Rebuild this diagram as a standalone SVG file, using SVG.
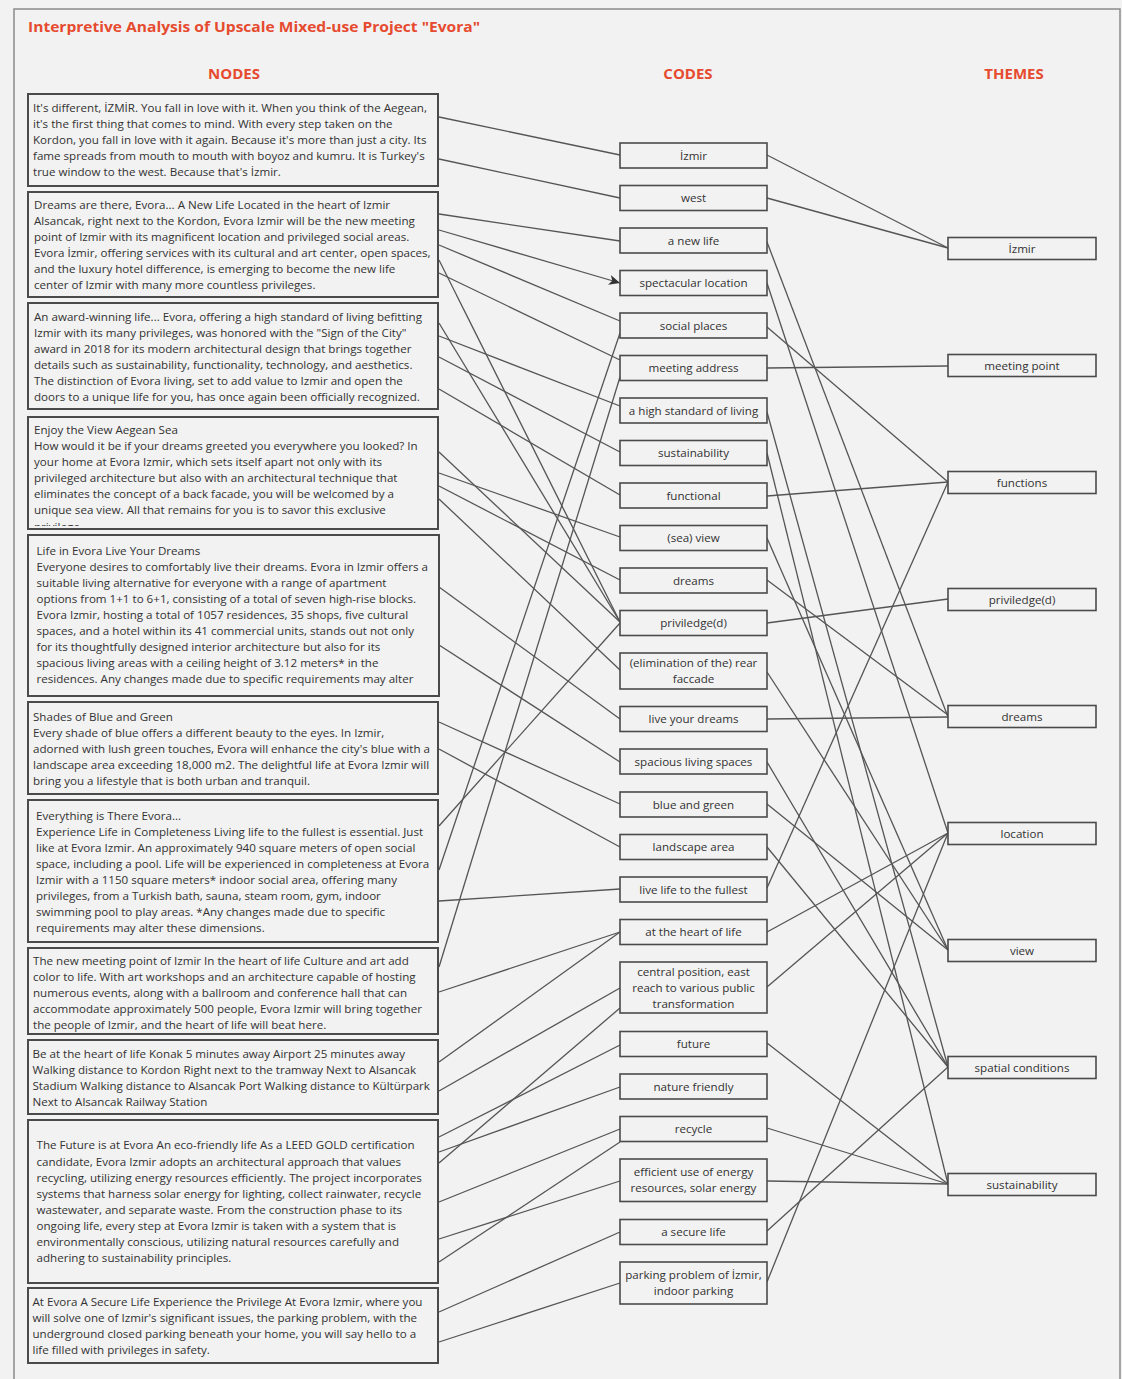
<svg xmlns="http://www.w3.org/2000/svg" width="1122" height="1379" viewBox="0 0 1122 1379">
<defs>
<style>
.t{font-family:"Open Sans","DejaVu Sans",sans-serif;font-size:11.6px;fill:#333}
.m{text-anchor:middle}
.hd{font-family:"Open Sans","DejaVu Sans",sans-serif;font-weight:bold;fill:#e64a2f}
.nb{fill:#f2f2f2;stroke:#4a4a4a;stroke-width:2}
.cb{fill:#f2f2f2;stroke:#4a4a4a;stroke-width:1.6}
.ln line{stroke:#555;stroke-width:1.3}
</style>
<marker id="arr" markerUnits="userSpaceOnUse" markerWidth="12" markerHeight="10" refX="11" refY="5" orient="auto">
<path d="M0,0 L11,5 L0,10 L3,5 Z" fill="#333"/>
</marker>
<clipPath id="clip4"><rect x="28" y="417" width="410" height="109"/></clipPath>
</defs>
<rect x="0" y="0" width="1122" height="1379" fill="#f2f2f2"/>
<rect x="14" y="9" width="1106" height="1390" fill="none" stroke="#8a8a8a" stroke-width="1.5"/>
<g id="title">
<text class="hd" x="28" y="32" font-size="14.5" textLength="452" lengthAdjust="spacingAndGlyphs">Interpretive Analysis of Upscale Mixed-use Project "Evora"</text>
</g>
<g id="headers">
<text class="hd m" x="234" y="79" font-size="15">NODES</text>
<text class="hd m" x="688" y="79" font-size="15">CODES</text>
<text class="hd m" x="1014" y="79" font-size="15">THEMES</text>
</g>
<g id="connectors" class="ln">
<line x1="439" y1="117" x2="620" y2="155"/>
<line x1="439" y1="159" x2="620" y2="198"/>
<line x1="439" y1="214" x2="620" y2="241"/>
<line x1="439" y1="230" x2="620" y2="283" marker-end="url(#arr)"/>
<line x1="439" y1="245" x2="620" y2="321"/>
<line x1="439" y1="273" x2="620" y2="360"/>
<line x1="439" y1="260" x2="620" y2="622"/>
<line x1="439" y1="323" x2="620" y2="622"/>
<line x1="439" y1="336" x2="620" y2="406"/>
<line x1="439" y1="357" x2="620" y2="452"/>
<line x1="439" y1="389" x2="620" y2="495"/>
<line x1="439" y1="452" x2="620" y2="622"/>
<line x1="439" y1="473" x2="620" y2="537"/>
<line x1="439" y1="486" x2="620" y2="580"/>
<line x1="439" y1="499" x2="620" y2="670"/>
<line x1="439" y1="587" x2="620" y2="719"/>
<line x1="439" y1="645" x2="620" y2="762"/>
<line x1="439" y1="722" x2="620" y2="804"/>
<line x1="439" y1="749" x2="620" y2="847"/>
<line x1="439" y1="901" x2="620" y2="889"/>
<line x1="439" y1="992" x2="620" y2="932"/>
<line x1="620" y1="333" x2="439" y2="870"/>
<line x1="620" y1="377" x2="439" y2="967"/>
<line x1="620" y1="623" x2="439" y2="826"/>
<line x1="620" y1="932" x2="439" y2="1062"/>
<line x1="620" y1="988" x2="439" y2="1091"/>
<line x1="620" y1="1008" x2="439" y2="1163"/>
<line x1="620" y1="1045" x2="439" y2="1137"/>
<line x1="620" y1="1087" x2="439" y2="1152"/>
<line x1="620" y1="1129" x2="439" y2="1202"/>
<line x1="620" y1="1142" x2="439" y2="1262"/>
<line x1="620" y1="1181" x2="439" y2="1239"/>
<line x1="620" y1="1232" x2="439" y2="1312"/>
<line x1="620" y1="1283" x2="439" y2="1342"/>
<line x1="767" y1="155" x2="948" y2="248"/>
<line x1="767" y1="198" x2="948" y2="248"/>
<line x1="767" y1="242" x2="948" y2="717"/>
<line x1="767" y1="283" x2="948" y2="833"/>
<line x1="767" y1="327" x2="948" y2="482"/>
<line x1="767" y1="368" x2="948" y2="366"/>
<line x1="767" y1="412" x2="948" y2="1067"/>
<line x1="767" y1="453" x2="948" y2="1184"/>
<line x1="767" y1="496" x2="948" y2="482"/>
<line x1="767" y1="538" x2="948" y2="950"/>
<line x1="767" y1="580" x2="948" y2="715"/>
<line x1="767" y1="623" x2="948" y2="599"/>
<line x1="767" y1="672" x2="948" y2="950"/>
<line x1="767" y1="719" x2="948" y2="717"/>
<line x1="767" y1="762" x2="948" y2="1067"/>
<line x1="767" y1="804" x2="948" y2="950"/>
<line x1="767" y1="847" x2="948" y2="1067"/>
<line x1="767" y1="888" x2="948" y2="482"/>
<line x1="767" y1="932" x2="948" y2="833"/>
<line x1="767" y1="987" x2="948" y2="833"/>
<line x1="767" y1="1043" x2="948" y2="1184"/>
<line x1="767" y1="1128" x2="948" y2="1184"/>
<line x1="767" y1="1181" x2="948" y2="1184"/>
<line x1="767" y1="1231" x2="948" y2="1067"/>
<line x1="767" y1="1282" x2="948" y2="833"/>
</g>
<g id="node-1"><rect class="nb" x="28" y="94" width="410" height="92"/>
<text class="t" x="33" y="112">It's different, İZMİR. You fall in love with it. When you think of the Aegean,</text>
<text class="t" x="33" y="128">it's the first thing that comes to mind. With every step taken on the</text>
<text class="t" x="33" y="144">Kordon, you fall in love with it again. Because it's more than just a city. Its</text>
<text class="t" x="33" y="160">fame spreads from mouth to mouth with boyoz and kumru. It is Turkey's</text>
<text class="t" x="33" y="176">true window to the west. Because that's İzmir.</text></g>
<g id="node-2"><rect class="nb" x="28" y="192" width="410" height="105"/>
<text class="t" x="34" y="209">Dreams are there, Evora... A New Life Located in the heart of Izmir</text>
<text class="t" x="34" y="225">Alsancak, right next to the Kordon, Evora Izmir will be the new meeting</text>
<text class="t" x="34" y="241">point of Izmir with its magnificent location and privileged social areas.</text>
<text class="t" x="34" y="257">Evora İzmir, offering services with its cultural and art center, open spaces,</text>
<text class="t" x="34" y="273">and the luxury hotel difference, is emerging to become the new life</text>
<text class="t" x="34" y="289">center of Izmir with many more countless privileges.</text></g>
<g id="node-3"><rect class="nb" x="28" y="303" width="410" height="106"/>
<text class="t" x="34" y="321">An award-winning life... Evora, offering a high standard of living befitting</text>
<text class="t" x="34" y="337">Izmir with its many privileges, was honored with the "Sign of the City"</text>
<text class="t" x="34" y="353">award in 2018 for its modern architectural design that brings together</text>
<text class="t" x="34" y="369">details such as sustainability, functionality, technology, and aesthetics.</text>
<text class="t" x="34" y="385">The distinction of Evora living, set to add value to Izmir and open the</text>
<text class="t" x="34" y="401">doors to a unique life for you, has once again been officially recognized.</text></g>
<g id="node-4"><rect class="nb" x="28" y="417" width="410" height="112"/>
<text class="t" x="34" y="434">Enjoy the View Aegean Sea</text>
<text class="t" x="34" y="450">How would it be if your dreams greeted you everywhere you looked? In</text>
<text class="t" x="34" y="466">your home at Evora Izmir, which sets itself apart not only with its</text>
<text class="t" x="34" y="482">privileged architecture but also with an architectural technique that</text>
<text class="t" x="34" y="498">eliminates the concept of a back facade, you will be welcomed by a</text>
<text class="t" x="34" y="514">unique sea view. All that remains for you is to savor this exclusive</text>
<text class="t" x="34" y="531" clip-path="url(#clip4)">privilege.</text></g>
<g id="node-5"><rect class="nb" x="28" y="535" width="411" height="161"/>
<text class="t" x="36.5" y="555">Life in Evora Live Your Dreams</text>
<text class="t" x="36.5" y="571">Everyone desires to comfortably live their dreams. Evora in Izmir offers a</text>
<text class="t" x="36.5" y="587">suitable living alternative for everyone with a range of apartment</text>
<text class="t" x="36.5" y="603">options from 1+1 to 6+1, consisting of a total of seven high-rise blocks.</text>
<text class="t" x="36.5" y="619">Evora Izmir, hosting a total of 1057 residences, 35 shops, five cultural</text>
<text class="t" x="36.5" y="635">spaces, and a hotel within its 41 commercial units, stands out not only</text>
<text class="t" x="36.5" y="651">for its thoughtfully designed interior architecture but also for its</text>
<text class="t" x="36.5" y="667">spacious living areas with a ceiling height of 3.12 meters* in the</text>
<text class="t" x="36.5" y="683">residences. Any changes made due to specific requirements may alter</text></g>
<g id="node-6"><rect class="nb" x="28" y="702" width="410" height="92"/>
<text class="t" x="33" y="721">Shades of Blue and Green</text>
<text class="t" x="33" y="737">Every shade of blue offers a different beauty to the eyes. In Izmir,</text>
<text class="t" x="33" y="753">adorned with lush green touches, Evora will enhance the city's blue with a</text>
<text class="t" x="33" y="769">landscape area exceeding 18,000 m2. The delightful life at Evora Izmir will</text>
<text class="t" x="33" y="785">bring you a lifestyle that is both urban and tranquil.</text></g>
<g id="node-7"><rect class="nb" x="28" y="800" width="410" height="142"/>
<text class="t" x="36" y="820">Everything is There Evora...</text>
<text class="t" x="36" y="836">Experience Life in Completeness Living life to the fullest is essential. Just</text>
<text class="t" x="36" y="852">like at Evora Izmir. An approximately 940 square meters of open social</text>
<text class="t" x="36" y="868">space, including a pool. Life will be experienced in completeness at Evora</text>
<text class="t" x="36" y="884">Izmir with a 1150 square meters* indoor social area, offering many</text>
<text class="t" x="36" y="900">privileges, from a Turkish bath, sauna, steam room, gym, indoor</text>
<text class="t" x="36" y="916">swimming pool to play areas. *Any changes made due to specific</text>
<text class="t" x="36" y="932">requirements may alter these dimensions.</text></g>
<g id="node-8"><rect class="nb" x="28" y="948" width="410" height="86"/>
<text class="t" x="33" y="965">The new meeting point of Izmir In the heart of life Culture and art add</text>
<text class="t" x="33" y="981">color to life. With art workshops and an architecture capable of hosting</text>
<text class="t" x="33" y="997">numerous events, along with a ballroom and conference hall that can</text>
<text class="t" x="33" y="1013">accommodate approximately 500 people, Evora Izmir will bring together</text>
<text class="t" x="33" y="1029">the people of Izmir, and the heart of life will beat here.</text></g>
<g id="node-9"><rect class="nb" x="28" y="1040" width="410" height="74"/>
<text class="t" x="32.5" y="1058">Be at the heart of life Konak 5 minutes away Airport 25 minutes away</text>
<text class="t" x="32.5" y="1074">Walking distance to Kordon Right next to the tramway Next to Alsancak</text>
<text class="t" x="32.5" y="1090">Stadium Walking distance to Alsancak Port Walking distance to Kültürpark</text>
<text class="t" x="32.5" y="1106">Next to Alsancak Railway Station</text></g>
<g id="node-10"><rect class="nb" x="28" y="1120" width="410" height="163"/>
<text class="t" x="36.5" y="1149">The Future is at Evora An eco-friendly life As a LEED GOLD certification</text>
<text class="t" x="36.5" y="1166">candidate, Evora Izmir adopts an architectural approach that values</text>
<text class="t" x="36.5" y="1182">recycling, utilizing energy resources efficiently. The project incorporates</text>
<text class="t" x="36.5" y="1198">systems that harness solar energy for lighting, collect rainwater, recycle</text>
<text class="t" x="36.5" y="1214">wastewater, and separate waste. From the construction phase to its</text>
<text class="t" x="36.5" y="1230">ongoing life, every step at Evora Izmir is taken with a system that is</text>
<text class="t" x="36.5" y="1246">environmentally conscious, utilizing natural resources carefully and</text>
<text class="t" x="36.5" y="1262">adhering to sustainability principles.</text></g>
<g id="node-11"><rect class="nb" x="28" y="1288" width="410" height="75"/>
<text class="t" x="32.5" y="1306">At Evora A Secure Life Experience the Privilege At Evora Izmir, where you</text>
<text class="t" x="32.5" y="1322">will solve one of Izmir's significant issues, the parking problem, with the</text>
<text class="t" x="32.5" y="1338">underground closed parking beneath your home, you will say hello to a</text>
<text class="t" x="32.5" y="1354">life filled with privileges in safety.</text></g>
<g id="code-1"><rect class="cb" x="620" y="143" width="147" height="25"/><text class="t m" x="693.5" y="159.5">İzmir</text></g>
<g id="code-2"><rect class="cb" x="620" y="185.5" width="147" height="25"/><text class="t m" x="693.5" y="202">west</text></g>
<g id="code-3"><rect class="cb" x="620" y="228" width="147" height="25"/><text class="t m" x="693.5" y="244.5">a new life</text></g>
<g id="code-4"><rect class="cb" x="620" y="270.5" width="147" height="25"/><text class="t m" x="693.5" y="287">spectacular location</text></g>
<g id="code-5"><rect class="cb" x="620" y="313" width="147" height="25"/><text class="t m" x="693.5" y="329.5">social places</text></g>
<g id="code-6"><rect class="cb" x="620" y="355.5" width="147" height="25"/><text class="t m" x="693.5" y="372">meeting address</text></g>
<g id="code-7"><rect class="cb" x="620" y="398" width="147" height="25"/><text class="t m" x="693.5" y="414.5">a high standard of living</text></g>
<g id="code-8"><rect class="cb" x="620" y="440.5" width="147" height="25"/><text class="t m" x="693.5" y="457">sustainability</text></g>
<g id="code-9"><rect class="cb" x="620" y="483" width="147" height="25"/><text class="t m" x="693.5" y="499.5">functional</text></g>
<g id="code-10"><rect class="cb" x="620" y="525.5" width="147" height="25"/><text class="t m" x="693.5" y="542">(sea) view</text></g>
<g id="code-11"><rect class="cb" x="620" y="568" width="147" height="25"/><text class="t m" x="693.5" y="584.5">dreams</text></g>
<g id="code-12"><rect class="cb" x="620" y="610.5" width="147" height="25"/><text class="t m" x="693.5" y="627">priviledge(d)</text></g>
<g id="code-13"><rect class="cb" x="620" y="653" width="147" height="36"/><text class="t m" x="693.5" y="667">(elimination of the) rear</text><text class="t m" x="693.5" y="683">faccade</text></g>
<g id="code-14"><rect class="cb" x="620" y="706.5" width="147" height="25"/><text class="t m" x="693.5" y="723">live your dreams</text></g>
<g id="code-15"><rect class="cb" x="620" y="749" width="147" height="25"/><text class="t m" x="693.5" y="765.5">spacious living spaces</text></g>
<g id="code-16"><rect class="cb" x="620" y="792" width="147" height="25"/><text class="t m" x="693.5" y="808.5">blue and green</text></g>
<g id="code-17"><rect class="cb" x="620" y="834.5" width="147" height="25"/><text class="t m" x="693.5" y="851">landscape area</text></g>
<g id="code-18"><rect class="cb" x="620" y="877" width="147" height="25"/><text class="t m" x="693.5" y="893.5">live life to the fullest</text></g>
<g id="code-19"><rect class="cb" x="620" y="919.5" width="147" height="25"/><text class="t m" x="693.5" y="936">at the heart of life</text></g>
<g id="code-20"><rect class="cb" x="620" y="962" width="147" height="51"/><text class="t m" x="693.5" y="976">central position, east</text><text class="t m" x="693.5" y="992">reach to various public</text><text class="t m" x="693.5" y="1008">transformation</text></g>
<g id="code-21"><rect class="cb" x="620" y="1031.5" width="147" height="25"/><text class="t m" x="693.5" y="1048">future</text></g>
<g id="code-22"><rect class="cb" x="620" y="1074" width="147" height="25"/><text class="t m" x="693.5" y="1090.5">nature friendly</text></g>
<g id="code-23"><rect class="cb" x="620" y="1116.5" width="147" height="25"/><text class="t m" x="693.5" y="1133">recycle</text></g>
<g id="code-24"><rect class="cb" x="620" y="1159" width="147" height="42.5"/><text class="t m" x="693.5" y="1176">efficient use of energy</text><text class="t m" x="693.5" y="1192">resources, solar energy</text></g>
<g id="code-25"><rect class="cb" x="620" y="1219.5" width="147" height="25"/><text class="t m" x="693.5" y="1236">a secure life</text></g>
<g id="code-26"><rect class="cb" x="620" y="1262" width="147" height="42"/><text class="t m" x="693.5" y="1279">parking problem of İzmir,</text><text class="t m" x="693.5" y="1295">indoor parking</text></g>
<g id="theme-1"><rect class="cb" x="948" y="237.5" width="148" height="22"/><text class="t m" x="1022" y="252.5">İzmir</text></g>
<g id="theme-2"><rect class="cb" x="948" y="354.5" width="148" height="22"/><text class="t m" x="1022" y="369.5">meeting point</text></g>
<g id="theme-3"><rect class="cb" x="948" y="471.5" width="148" height="22"/><text class="t m" x="1022" y="486.5">functions</text></g>
<g id="theme-4"><rect class="cb" x="948" y="588.5" width="148" height="22"/><text class="t m" x="1022" y="603.5">priviledge(d)</text></g>
<g id="theme-5"><rect class="cb" x="948" y="705.5" width="148" height="22"/><text class="t m" x="1022" y="720.5">dreams</text></g>
<g id="theme-6"><rect class="cb" x="948" y="822.5" width="148" height="22"/><text class="t m" x="1022" y="837.5">location</text></g>
<g id="theme-7"><rect class="cb" x="948" y="939.5" width="148" height="22"/><text class="t m" x="1022" y="954.5">view</text></g>
<g id="theme-8"><rect class="cb" x="948" y="1056.5" width="148" height="22"/><text class="t m" x="1022" y="1071.5">spatial conditions</text></g>
<g id="theme-9"><rect class="cb" x="948" y="1173.5" width="148" height="22"/><text class="t m" x="1022" y="1188.5">sustainability</text></g>
</svg>
